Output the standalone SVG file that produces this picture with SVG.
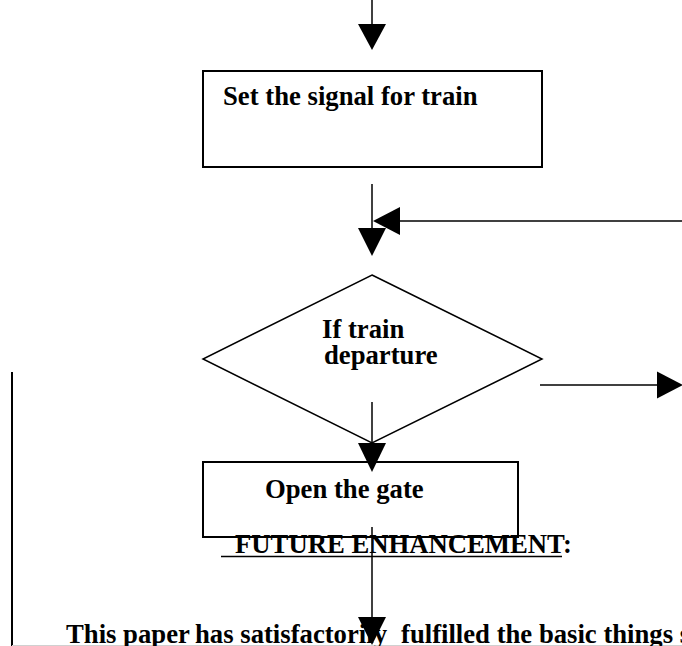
<svg xmlns="http://www.w3.org/2000/svg" width="682" height="646" viewBox="0 0 682 646">
<style>
.t{font-family:"Liberation Serif","Times New Roman",serif;font-weight:bold;font-size:26.7px;fill:#000}
.box{fill:none;stroke:#000;stroke-width:2}
.ln{fill:none;stroke:#000;stroke-width:1.5}
.ah{fill:#000;stroke:none}
</style>
<rect x="0" y="0" width="682" height="646" fill="#fff"/>
<g id="connectors">
<line class="ln" x1="372" y1="0" x2="372" y2="25"/>
<polygon class="ah" points="358,24 386,24 372,50"/>
<line class="ln" x1="372" y1="184" x2="372" y2="229"/>
<polygon class="ah" points="358,228 386,228 372,256"/>
<line class="ln" x1="682" y1="221" x2="399" y2="221"/>
<polygon class="ah" points="373,221 400,207 400,235"/>
<line class="ln" x1="540" y1="385" x2="658" y2="385"/>
<polygon class="ah" points="657,371.5 657,398.5 683,385"/>
<line class="ln" x1="372" y1="402" x2="372" y2="444"/>
<polygon class="ah" points="358,443 386,443 372,472"/>
<line class="ln" x1="372" y1="527" x2="372" y2="618"/>
<polygon class="ah" points="358,617 386,617 372,645"/>
<line x1="12" y1="372" x2="12" y2="646" stroke="#000" stroke-width="2"/>
</g>
<g id="node-signal">
<rect class="box" x="203" y="71" width="339" height="96"/>
<text class="t" x="223" y="104.5">Set the signal for train</text>
</g>
<g id="node-decision">
<polygon class="ln" points="372,275 542,359 372,443 203,359"/>
<text class="t" x="322" y="338">If train</text>
<text class="t" x="324" y="364">departure</text>
</g>
<g id="node-gate">
<rect class="box" x="203" y="462" width="315" height="75"/>
<text class="t" x="265" y="498">Open the gate</text>
</g>
<g id="heading">
<text class="t" x="235" y="553">FUTURE ENHANCEMENT:</text>
<line x1="221" y1="556.5" x2="562" y2="556.5" stroke="#000" stroke-width="1.5"/>
</g>
<g id="paragraph">
<line x1="12" y1="645.5" x2="682" y2="645.5" stroke="#d0d0d0" stroke-width="1"/>
<text class="t" y="643"><tspan x="66">This paper </tspan><tspan x="195">has satisfactorily </tspan><tspan x="401">fulfilled the basic things s</tspan></text>
</g>
</svg>
